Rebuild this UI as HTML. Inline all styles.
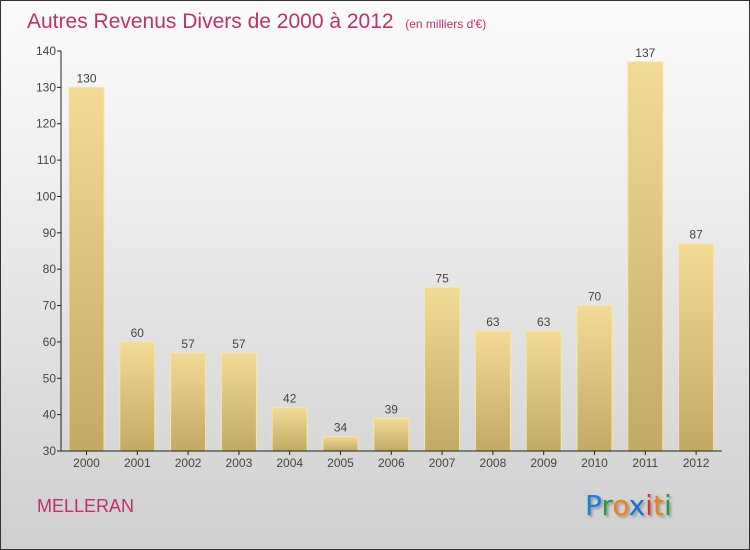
<!DOCTYPE html>
<html><head><meta charset="utf-8"><style>
body{margin:0;}
#wrap{position:relative;width:748px;height:548px;border:1px solid #333;background:linear-gradient(#fbfbfb,#f0f0f0 30%,#cfcfcf);font-family:"Liberation Sans",sans-serif;overflow:hidden}
#title{position:absolute;left:26px;top:9px;font-size:21px;color:#c0306a;white-space:nowrap}
#title small{font-size:12px}
#city{position:absolute;left:36px;top:495px;font-size:18px;color:#c0306a}
#logo{position:absolute;left:584px;top:488px;font-size:28px;font-family:"DejaVu Sans",sans-serif;text-shadow:2px 2px 2px #999}
svg{position:absolute;left:0;top:0}
</style></head><body>
<div id="wrap">
<div id="title">Autres Revenus Divers de 2000 à 2012 &nbsp;<small>(en milliers d'€)</small></div>
<svg id="chart" width="748" height="548">
<defs><linearGradient id="g" x1="0" y1="0" x2="0" y2="1"><stop offset="0" stop-color="#f3da95"/><stop offset="1" stop-color="#c2aa64"/></linearGradient></defs>
</svg>
<div id="city">MELLERAN</div>
<div id="logo"><span style="color:#1a7fd8">P</span><span style="color:#2a9a3a">r</span><span style="color:#f08010">o</span><span style="color:#1a6fd0">x</span><span style="color:#e03020">i</span><span style="color:#f08010">t</span><span style="color:#2a9a3a">i</span></div>
</div>
<script>
const categories=["2000","2001","2002","2003","2004","2005","2006","2007","2008","2009","2010","2011","2012"];
const values=[130,60,57,57,42,34,39,75,63,63,70,137,87];
const yTicks=[30,40,50,60,70,80,90,100,110,120,130,140];
const svg=document.getElementById('chart');const NS='http://www.w3.org/2000/svg';
const y=v=>450-(v-30)*400/110;
const x=i=>85.5+i*50.8;
function mk(t,a){const e=document.createElementNS(NS,t);for(const k in a)e.setAttribute(k,a[k]);svg.appendChild(e);return e;}
yTicks.forEach(t=>{
 const l=mk('line',{x1:56,x2:60,y1:y(t),y2:y(t),stroke:'#222'});
 
 
 const tx=mk('text',{x:55,y:y(t)+4,'text-anchor':'end','font-size':12,fill:'#444','font-family':'Liberation Sans, sans-serif'});
 tx.textContent=t;
 
 
});
categories.forEach((c,i)=>{
 const b=mk('rect',{x:x(i)-17.5,y:y(values[i]),width:35,height:450-y(values[i]),fill:'url(#g)',stroke:'#f6e6a8','stroke-width':1});
 
 
 const v=mk('text',{x:x(i),y:y(values[i])-5,'text-anchor':'middle','font-size':12,fill:'#444','font-family':'Liberation Sans, sans-serif'});
 v.textContent=values[i];
 
 
 const t=mk('line',{x1:x(i),x2:x(i),y1:450,y2:454,stroke:'#222'});
 
 
 const lb=mk('text',{x:x(i),y:466,'text-anchor':'middle','font-size':12,fill:'#444','font-family':'Liberation Sans, sans-serif'});
 lb.textContent=c;
 
 
});
const ya=mk('line',{x1:60,x2:60,y1:y(140),y2:450,stroke:'#222'});


const xa=mk('line',{x1:60,x2:721,y1:450,y2:450,stroke:'#222'});


</script>
</body></html>
